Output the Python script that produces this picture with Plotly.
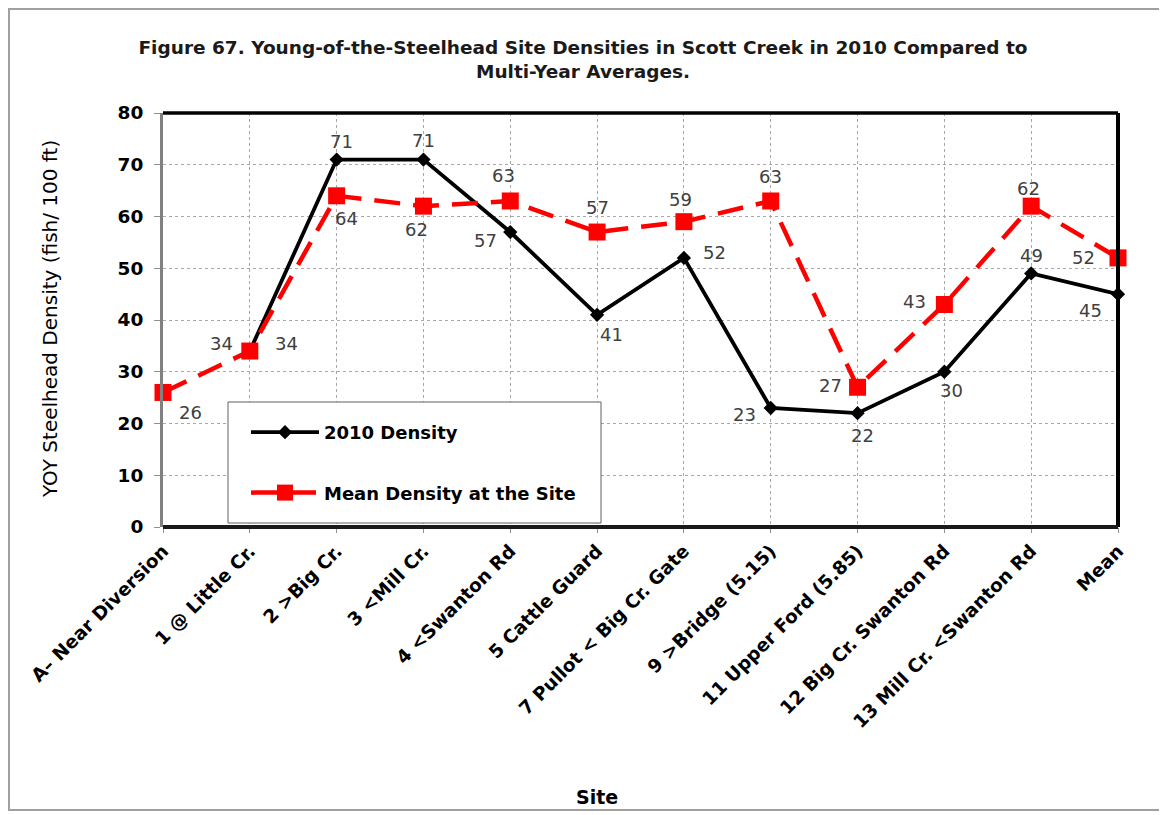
import plotly.graph_objects as go

# ---------------- data ----------------
sites = ["A– Near Diversion", "1 @ Little Cr.", "2 >Big Cr.", "3 <Mill Cr.", "4 <Swanton Rd",
         "5 Cattle Guard", "7 Pullot < Big Cr. Gate", "9 >Bridge (5.15)", "11 Upper Ford (5.85)",
         "12 Big Cr. Swanton Rd", "13 Mill Cr. <Swanton Rd", "Mean"]
density_2010 = [None, 34, 71, 71, 57, 41, 52, 23, 22, 30, 49, 45]
mean_density = [26, 34, 64, 62, 63, 57, 59, 63, 27, 43, 62, 52]
y_ticks = [0, 10, 20, 30, 40, 50, 60, 70, 80]

# ---------------- label offsets (px: dx right, dy down) ----------------
off_2010 = [None, (37, -8), (5, -18), (0, -19), (-25, 8), (14, 20), (31, -5),
            (-26, 7), (5, 22), (7, 19), (0, -18), (-28, 16)]
off_mean = [(27, 20), (-28, -8), (10, 23), (-7, 23), (-7, -25), (0, -25), (-3, -22),
            (0, -24), (-27, -2), (-30, -3), (-3, -18), (-35, 0)]

x = list(range(len(sites)))

# figure geometry (page body adds 8px offset)
W, H = 1159, 807
L, T = 155, 105
R = W - 1110
B = H - 519
PW = W - L - R
PH = H - T - B

label_font = dict(family="DejaVu Sans", size=18, color="#404040")

fig = go.Figure()
fig.add_trace(go.Scatter(
    x=x, y=density_2010, name="<b>2010 Density</b>", mode="lines+markers",
    line=dict(color="black", width=3.8),
    marker=dict(symbol="diamond", size=11, color="black"),
    legendgroup="a", cliponaxis=False,
))
fig.add_trace(go.Scatter(
    x=x, y=mean_density, name="<b>Mean Density at the Site</b>", mode="lines+markers",
    line=dict(color="#FF0000", width=4.5, dash="26px,13px"),
    marker=dict(symbol="square", size=17, color="#FF0000"),
    legendgroup="b", cliponaxis=False,
))

annotations = []
for vals, offs in ((density_2010, off_2010), (mean_density, off_mean)):
    for i, v in enumerate(vals):
        if v is None:
            continue
        dx, dy = offs[i]
        annotations.append(dict(x=i, y=v, xref="x", yref="y", text=str(v), showarrow=False,
                                xshift=dx, yshift=-dy, xanchor="center", yanchor="middle",
                                font=label_font))

# axis titles
annotations.append(dict(text="<b>Site</b>", xref="paper", yref="paper",
                        x=(589 - L) / PW, y=(519 - 789) / PH, xanchor="center", yanchor="middle",
                        showarrow=False, font=dict(family="DejaVu Sans", size=19, color="black")))
annotations.append(dict(text="YOY Steelhead Density (fish/ 100 ft)", xref="paper", yref="paper",
                        x=(42 - L) / PW, y=(519 - 311) / PH, xanchor="center", yanchor="middle",
                        textangle=-90, showarrow=False,
                        font=dict(family="DejaVu Sans", size=20, color="black")))

fig.update_layout(
    width=W, height=H,
    margin=dict(l=L, r=R, t=T, b=B, autoexpand=False),
    paper_bgcolor="white", plot_bgcolor="white",
    title=dict(text="<b>Figure 67. Young-of-the-Steelhead Site Densities in Scott Creek in 2010 Compared to<br>Multi-Year Averages.</b>",
               x=575 / W, xanchor="center", xref="container",
               y=1 - 46 / H, yanchor="middle", yref="container",
               font=dict(family="DejaVu Sans", size=18.5, color="#1a1a1a")),
    font=dict(family="DejaVu Sans", color="black"),
    showlegend=True,
    legend=dict(x=(238 - L) / PW, y=(519 - 406) / PH, xanchor="left", yanchor="top",
                bgcolor="rgba(0,0,0,0)", borderwidth=0,
                font=dict(family="DejaVu Sans", size=18, color="black"),
                tracegroupgap=34, traceorder="grouped", itemwidth=68,
                itemsizing="trace"),
    annotations=annotations,
    xaxis=dict(
        tickmode="array", tickvals=x, ticktext=["<b>%s</b>" % s for s in sites],
        range=[0, len(sites) - 1], tickangle=-45, automargin=False,
        tickfont=dict(family="DejaVu Sans", size=18.5, color="black"),
        showgrid=True, gridcolor="#A8A8A8", griddash="3px,3px", gridwidth=1,
        ticks="outside", ticklen=5, tickcolor="#909090",
        showline=False, zeroline=False,
    ),
    yaxis=dict(
        range=[0, 80], tickmode="array", tickvals=y_ticks,
        ticktext=["<b>%d</b>" % v for v in y_ticks], automargin=False,
        tickfont=dict(family="DejaVu Sans", size=18.5, color="black"),
        ticklabelstandoff=7,
        showgrid=True, gridcolor="#A8A8A8", griddash="3px,3px", gridwidth=1,
        ticks="outside", ticklen=6, tickcolor="#909090",
        showline=True, linecolor="#808080", linewidth=3, zeroline=False,
    ),
    shapes=[
        # plot frame (top, right, bottom)
        dict(type="line", xref="x domain", yref="y domain", x0=0, x1=1, y0=1, y1=1,
             line=dict(color="black", width=3.5), layer="above"),
        dict(type="line", xref="x domain", yref="y domain", x0=1, x1=1, y0=0, y1=1,
             line=dict(color="black", width=4), layer="above"),
        dict(type="line", xref="x domain", yref="y domain", x0=0, x1=1, y0=0, y1=0,
             line=dict(color="#1a1a1a", width=4), layer="above"),
        # legend box
        dict(type="rect", xref="x domain", yref="y domain",
             x0=(220 - L) / PW, x1=(593 - L) / PW, y0=(519 - 515) / PH, y1=(519 - 394) / PH,
             line=dict(color="#606060", width=1), fillcolor="white", layer="above"),
        # outer chart border
        dict(type="rect", xref="paper", yref="paper",
             x0=(1 - L) / PW, x1=(1152 - L) / PW,
             y0=(519 - 802) / PH, y1=(519 - 1) / PH,
             line=dict(color="#A0A0A0", width=2), fillcolor="rgba(0,0,0,0)", layer="below"),
    ],
)

fig.write_html("out.html")
